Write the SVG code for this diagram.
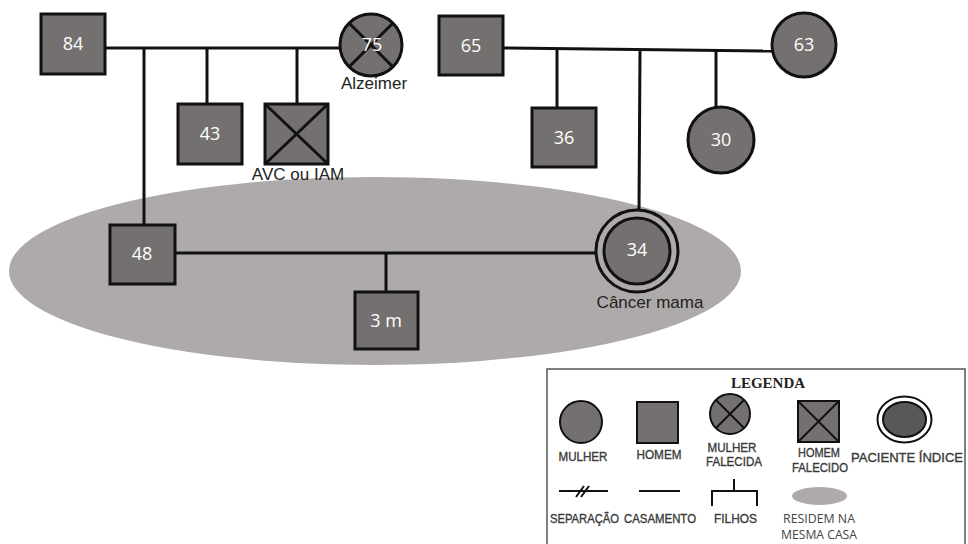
<svg xmlns="http://www.w3.org/2000/svg" width="968" height="544" viewBox="0 0 968 544">
<style>
.node{fill:#74706f;stroke:#111;stroke-width:3}
.lnode{fill:#74706f;stroke:#111;stroke-width:2}
.ln{stroke:#111;stroke-width:3;fill:none}
.lln{stroke:#111;stroke-width:2;fill:none}
.num{font-family:"Open Sans","DejaVu Sans",sans-serif;font-size:18px;fill:#fff;text-anchor:middle}
.lab{font-family:"Liberation Sans",Arial,sans-serif;font-size:17px;fill:#222;text-anchor:middle}
.leg{font-family:"Liberation Sans",Arial,sans-serif;font-size:12.5px;fill:#3a3a3a;stroke:#3a3a3a;stroke-width:0.35;text-anchor:middle}
.leg2{font-family:"Open Sans","DejaVu Sans",sans-serif;font-size:12px;fill:#444;text-anchor:middle}
.house{fill:#aeaaa9}
</style>
<rect width="968" height="544" fill="#fff"/>
<ellipse id="household" class="house" cx="375" cy="271" rx="366" ry="94"/>

<g id="connectors">
  <line class="ln" x1="105" y1="48" x2="341" y2="48"/>
  <line class="ln" x1="144" y1="48" x2="144" y2="225"/>
  <line class="ln" x1="207" y1="48" x2="207" y2="104"/>
  <line class="ln" x1="297" y1="48" x2="297" y2="104"/>
  <line class="ln" x1="503" y1="48" x2="772" y2="51"/>
  <line class="ln" x1="557" y1="50" x2="557" y2="108"/>
  <line class="ln" x1="640" y1="51" x2="639" y2="210"/>
  <line class="ln" x1="716" y1="51" x2="716" y2="107"/>
  <line class="ln" x1="175" y1="253" x2="596" y2="253"/>
  <line class="ln" x1="386" y1="253" x2="386" y2="292"/>
</g>

<g id="n84"><rect class="node" x="41" y="14" width="64" height="60"/><text class="num" x="73" y="50">84</text></g>
<g id="n75"><circle class="node" cx="371" cy="45" r="31"/>
  <line class="ln" x1="349" y1="23" x2="393" y2="67"/><line class="ln" x1="393" y1="23" x2="349" y2="67"/>
  <text class="num" x="372" y="51">75</text>
  <text class="lab" x="374" y="89">Alzeimer</text></g>
<g id="n43"><rect class="node" x="178" y="104" width="64" height="60"/><text class="num" x="210" y="140">43</text></g>
<g id="nAVC"><rect class="node" x="265" y="104" width="63" height="60"/>
  <line class="ln" x1="265" y1="104" x2="328" y2="164"/><line class="ln" x1="328" y1="104" x2="265" y2="164"/>
  <text class="lab" x="298" y="180">AVC ou IAM</text></g>
<g id="n65"><rect class="node" x="439" y="16" width="64" height="59"/><text class="num" x="471" y="52">65</text></g>
<g id="n63"><circle class="node" cx="804" cy="45" r="32"/><text class="num" x="804" y="51">63</text></g>
<g id="n36"><rect class="node" x="532" y="108" width="64" height="59"/><text class="num" x="564" y="144">36</text></g>
<g id="n30"><circle class="node" cx="721" cy="140" r="33"/><text class="num" x="721" y="146">30</text></g>
<g id="n48"><rect class="node" x="110" y="225" width="65" height="59"/><text class="num" x="142" y="260">48</text></g>
<g id="n3m"><rect class="node" x="355" y="292" width="63" height="57"/><text class="num" x="386" y="327">3 m</text></g>
<g id="n34"><circle cx="637" cy="251" r="41" fill="#aeaaa9" stroke="#111" stroke-width="3"/>
  <circle class="node" cx="637" cy="251" r="33"/>
  <text class="num" x="637" y="256">34</text>
  <text class="lab" x="650" y="308">Câncer mama</text></g>

<g id="legend">
  <rect x="547" y="369" width="418" height="185" fill="#fff" stroke="#555" stroke-width="1.5"/>
  <text x="768" y="388" font-family="Liberation Serif,serif" font-weight="bold" font-size="15" fill="#222" text-anchor="middle">LEGENDA</text>
  <circle class="lnode" cx="581" cy="422" r="21"/>
  <text class="leg" x="583" y="461" textLength="49" lengthAdjust="spacingAndGlyphs">MULHER</text>
  <rect class="lnode" x="637" y="402" width="41" height="41"/>
  <text class="leg" x="659" y="459" textLength="45" lengthAdjust="spacingAndGlyphs">HOMEM</text>
  <circle class="lnode" cx="730" cy="414" r="20"/>
  <line class="lln" x1="716" y1="400" x2="744" y2="428"/><line class="lln" x1="744" y1="400" x2="716" y2="428"/>
  <text class="leg" x="732" y="452" textLength="49" lengthAdjust="spacingAndGlyphs">MULHER</text>
  <text class="leg" x="734" y="466" textLength="56" lengthAdjust="spacingAndGlyphs">FALECIDA</text>
  <rect class="lnode" x="798" y="401" width="41" height="41"/>
  <line class="lln" x1="798" y1="401" x2="839" y2="442"/><line class="lln" x1="839" y1="401" x2="798" y2="442"/>
  <text class="leg" x="819" y="457" textLength="42" lengthAdjust="spacingAndGlyphs">HOMEM</text>
  <text class="leg" x="820" y="472" textLength="56" lengthAdjust="spacingAndGlyphs">FALECIDO</text>
  <ellipse cx="904.5" cy="419.5" rx="27" ry="23" fill="#fff" stroke="#111" stroke-width="2"/>
  <ellipse cx="904.5" cy="419.5" rx="21.5" ry="17.5" fill="#58585a" stroke="#111" stroke-width="2"/>
  <text class="leg" x="907" y="462" font-size="13" textLength="112" lengthAdjust="spacingAndGlyphs">PACIENTE ÍNDICE</text>
  <line class="lln" x1="559" y1="491" x2="608" y2="491"/>
  <line class="lln" x1="576" y1="497" x2="584" y2="486"/><line class="lln" x1="581" y1="497" x2="589" y2="486"/>
  <text class="leg" x="584.5" y="523" textLength="69" lengthAdjust="spacingAndGlyphs">SEPARAÇÃO</text>
  <line class="lln" x1="639" y1="491" x2="680" y2="491"/>
  <text class="leg" x="660" y="523" textLength="72" lengthAdjust="spacingAndGlyphs">CASAMENTO</text>
  <path class="lln" d="M712 506 V491 H757 V506 M734 491 V479"/>
  <text class="leg" x="735.5" y="523" textLength="43" lengthAdjust="spacingAndGlyphs">FILHOS</text>
  <ellipse cx="819.5" cy="496" rx="27.5" ry="9" fill="#aeaaa9"/>
  <text class="leg2" x="819" y="523" textLength="72" lengthAdjust="spacingAndGlyphs">RESIDEM NA</text>
  <text class="leg2" x="819" y="539" textLength="76" lengthAdjust="spacingAndGlyphs">MESMA CASA</text>
</g>
</svg>
